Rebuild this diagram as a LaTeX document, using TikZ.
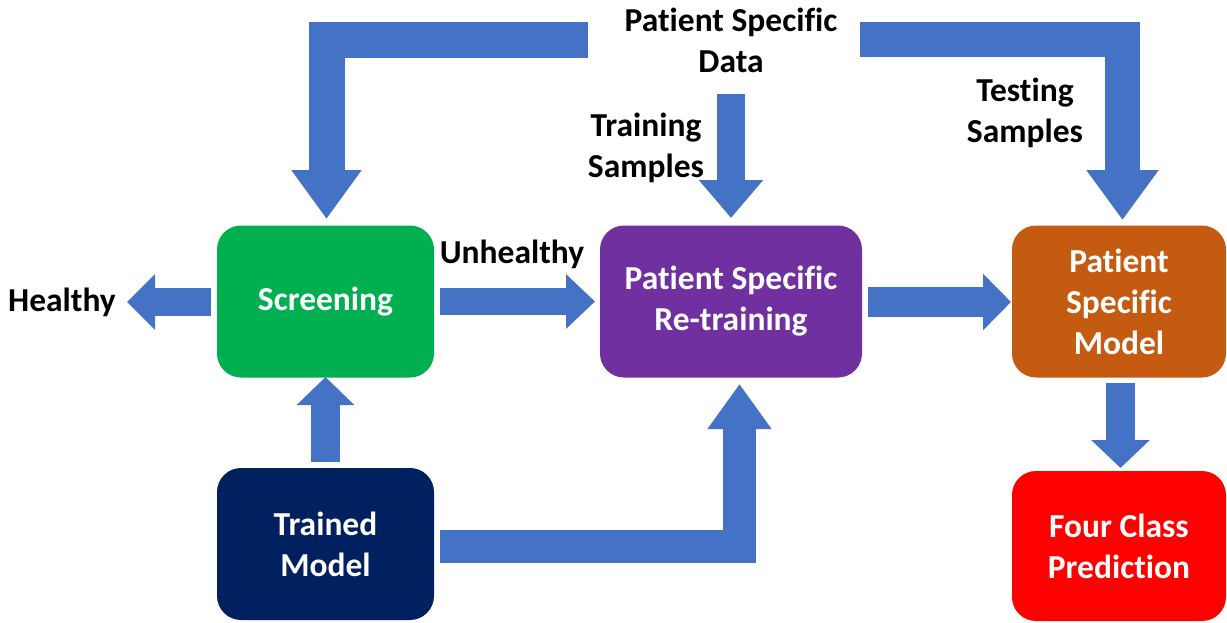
\documentclass[tikz,border=0pt]{standalone}
\usepackage{fontspec}
\setmainfont{Carlito}[Ligatures=NoCommon]
\usetikzlibrary{arrows.meta}
\definecolor{arrowblue}{HTML}{4472C4}
\definecolor{boxgreen}{HTML}{00B050}
\definecolor{boxpurple}{HTML}{7030A0}
\definecolor{boxorange}{HTML}{C55A11}
\definecolor{boxnavy}{HTML}{002060}
\definecolor{boxred}{HTML}{FF0000}
\begin{document}
\begin{tikzpicture}[x=1pt,y=-1pt,
  every node/.style={font=\fontsize{33.5}{41}\selectfont\bfseries, align=center, inner sep=0pt},
  box/.style={rounded corners=24pt, text=white, minimum height=152pt},
  lbl/.style={text=black},
  blk/.style={draw=arrowblue, line join=miter, line cap=butt}
]
\path[use as bounding box] (0,0) rectangle (1227,622);

% boxes
\node[box, fill=boxgreen, minimum width=217pt] (screen) at (325.5,301.5) {\raisebox{-2pt}{Screening}};
\node[box, fill=boxpurple, minimum width=262pt] (retrain) at (731,301.5) {\raisebox{-2pt}{Patient Specific}\\\raisebox{-2pt}{Re-training}};
\node[box, fill=boxorange, minimum width=214pt] (psmodel) at (1119,301.5) {\raisebox{-2pt}{Patient}\\\raisebox{-2pt}{Specific}\\\raisebox{-2pt}{Model}};
\node[box, fill=boxnavy, minimum width=217pt] (trained) at (325.5,544) {\raisebox{-1pt}{Trained}\\\raisebox{-1pt}{Model}};
\node[box, fill=boxred, minimum width=214pt, minimum height=150pt] (pred) at (1119,546) {Four Class\\Prediction};

% labels
\node[lbl] (psdata) at (731,40) {Patient Specific\\Data};
\node[lbl] (trainS) at (646,148) {Training\\Samples};
\node[lbl] (testS) at (1025,113) {Testing\\Samples};
\node[lbl] (unh) at (512,254) {Unhealthy};
\node[lbl] (healthy) at (62,302) {Healthy};

% connector end points
\coordinate (dL) at (588,39.5);
\coordinate (dLc) at (326.5,39.5);
\coordinate (dLe) at (326.5,219);
\coordinate (dR) at (860,39.5);
\coordinate (dRc) at (1122.5,39.5);
\coordinate (dRe) at (1122.5,220);
\coordinate (dT) at (731,94);
\coordinate (dTe) at (731,218);
\coordinate (hS) at (211,302);
\coordinate (hE) at (127,302);
\coordinate (uS) at (440,301.5);
\coordinate (uE) at (595,301.5);
\coordinate (mS) at (868,302);
\coordinate (mE) at (1011,302);
\coordinate (tS) at (325.5,462);
\coordinate (tE) at (325.5,377);
\coordinate (bS) at (440,546.5);
\coordinate (bE) at (739.5,384);
\coordinate (oS) at (1120.5,383);
\coordinate (oE) at (1120.5,468);

% arrows
\draw[blk, line width=36pt, -{Triangle[width=67pt,length=49pt]}]
  (dL) -- (dLc) -- (dLe);
\draw[blk, line width=35pt, -{Triangle[width=69pt,length=50pt]}]
  (dR) -- (dRc) -- (dRe);
\draw[blk, line width=28pt, -{Triangle[width=62pt,length=38pt]}]
  (dT) -- (dTe);
\draw[blk, line width=28pt, -{Triangle[width=54pt,length=28pt]}] (hS) -- (hE);
\draw[blk, line width=27pt, -{Triangle[width=53pt,length=29pt]}] (uS) -- (uE);
\draw[blk, line width=30pt, -{Triangle[width=55pt,length=28pt]}] (mS) -- (mE);
\draw[blk, line width=29pt, -{Triangle[width=56pt,length=28pt]}] (tS) -- (tE);
\draw[blk, line width=33pt, -{Triangle[width=61pt,length=45pt]}]
  (bS) -- (bS -| bE) -- (bE);
\draw[blk, line width=29pt, -{Triangle[width=57pt,length=28pt]}] (oS) -- (oE);
\end{tikzpicture}
\end{document}
